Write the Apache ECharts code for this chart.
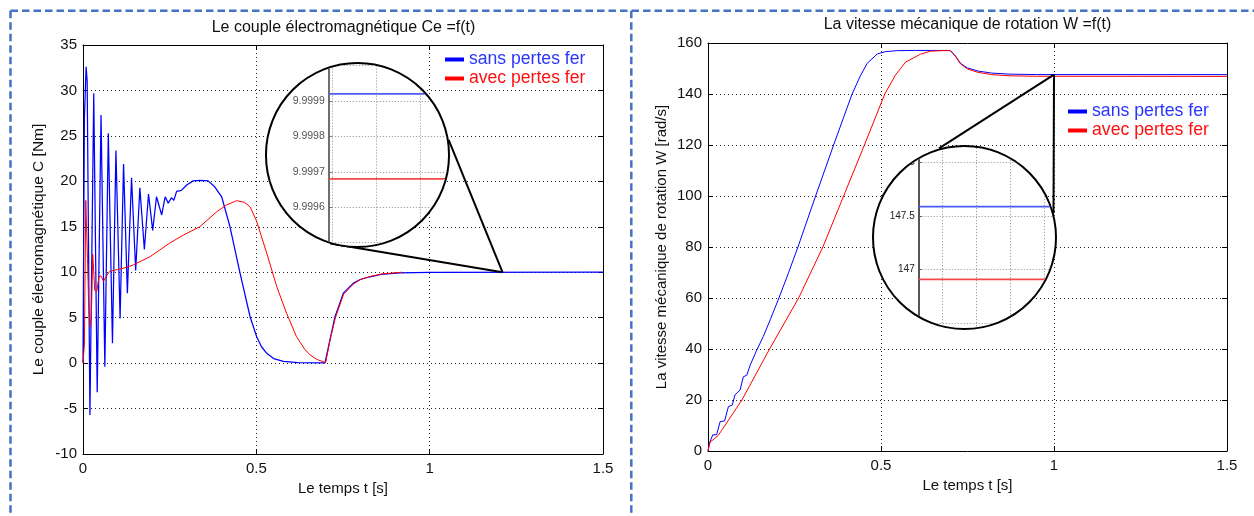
<!DOCTYPE html>
<html>
<head>
<meta charset="utf-8">
<script src="https://cdn.jsdelivr.net/npm/echarts@6/dist/echarts.min.js"></script>
<style>
  html, body { margin: 0; padding: 0; background: #fff; }
  #main { position: absolute; left: 0; top: 0; width: 1254px; height: 516px; }
  .lens { position: absolute; box-sizing: border-box; border: 2.5px solid #000; border-radius: 50%; overflow: hidden; background: #fff; }
  .lens > div { position: absolute; left: 0; top: 0; }
</style>
</head>
<body>
<div id="main"></div>
<div class="lens" id="lensC"><div id="zoomC"></div></div>
<div class="lens" id="lensW"><div id="zoomW"></div></div>
<script>
// ---- Couple électromagnétique Ce(t) [Nm] ----
const tCoupleSans = [0, 0.004, 0.009, 0.012, 0.020, 0.031, 0.041, 0.052, 0.063, 0.073, 0.085, 0.095, 0.107, 0.117, 0.128, 0.140, 0.152, 0.164, 0.177, 0.189, 0.201, 0.212, 0.227, 0.237, 0.246, 0.255, 0.262, 0.270, 0.284, 0.299, 0.318, 0.337, 0.361, 0.380, 0.400, 0.424, 0.453, 0.482, 0.501, 0.515, 0.530, 0.550, 0.578, 0.620, 0.698, 0.712, 0.727, 0.751, 0.780, 0.800, 0.828, 0.860, 0.914, 1.000, 1.500];
const coupleSans  = [0, 27.0, 32.6, 31.0, -5.7, 29.7, -3.2, 27.3, -0.4, 25.3, 2.2, 23.4, 4.9, 21.9, 7.7, 20.4, 10.2, 19.3, 12.5, 18.6, 14.6, 18.3, 16.3, 18.3, 17.6, 18.2, 17.9, 18.9, 19.0, 19.6, 20.05, 20.1, 20.05, 19.4, 18.3, 15.0, 9.9, 5.1, 2.9, 1.8, 1.08, 0.5, 0.2, 0.05, 0.03, 2.5, 5.1, 7.7, 8.8, 9.2, 9.5, 9.75, 9.92, 9.99, 9.99992];

const tCoupleAvec = [0, 0.004, 0.008, 0.011, 0.013, 0.016, 0.020, 0.024, 0.028, 0.031, 0.034, 0.040, 0.046, 0.052, 0.059, 0.068, 0.077, 0.100, 0.113, 0.145, 0.193, 0.250, 0.290, 0.337, 0.386, 0.414, 0.443, 0.465, 0.482, 0.500, 0.530, 0.559, 0.587, 0.616, 0.640, 0.655, 0.675, 0.693, 0.700, 0.713, 0.728, 0.752, 0.780, 0.800, 0.830, 0.860, 0.920];
const coupleAvec  = [0, 2.0, 17.9, 18.0, 11.5, 7.0, 4.0, 5.0, 12.0, 11.8, 8.0, 7.9, 9.5, 9.6, 9.0, 9.6, 10.1, 10.3, 10.4, 10.8, 11.7, 13.2, 14.1, 15.0, 16.66, 17.4, 17.87, 17.7, 17.2, 15.7, 12.1, 8.4, 5.5, 2.9, 1.5, 0.9, 0.4, 0.15, 0.05, 2.6, 5.0, 7.6, 8.7, 9.2, 9.55, 9.8, 9.99968];

// ---- Vitesse mécanique W(t) [rad/s] ----
const tVitesseSans = [0, 0.004, 0.0136, 0.025, 0.035, 0.048, 0.059, 0.070, 0.078, 0.093, 0.102, 0.112, 0.122, 0.141, 0.160, 0.180, 0.205, 0.233, 0.260, 0.311, 0.363, 0.4165, 0.440, 0.460, 0.489, 0.513, 0.547, 0.600, 0.700, 0.715, 0.730, 0.750, 0.780, 0.820, 0.870, 0.950, 1.500];
const vitesseSans  = [0, 3.0, 6.3, 6.4, 11.5, 11.8, 17.4, 18.0, 22.0, 24.0, 29.1, 29.7, 33.7, 39.6, 45.0, 51.5, 60.0, 70.0, 80.0, 100.0, 120.0, 140.0, 147.0, 152.0, 155.7, 156.6, 157.0, 157.08, 157.08, 155.0, 152.0, 150.2, 149.0, 148.2, 147.8, 147.62, 147.59];

const tVitesseAvec = [0, 0.006, 0.014, 0.030, 0.039, 0.098, 0.178, 0.262, 0.332, 0.392, 0.452, 0.511, 0.542, 0.571, 0.614, 0.643, 0.680, 0.700, 0.715, 0.730, 0.750, 0.780, 0.820, 0.870, 0.950, 1.500];
const vitesseAvec  = [0, 3.5, 4.3, 6.2, 8.0, 20.0, 40.0, 60.0, 80.0, 100.0, 120.0, 140.0, 147.5, 152.5, 155.6, 156.8, 157.0, 157.0, 154.8, 151.8, 149.8, 148.5, 147.6, 147.15, 146.95, 146.91];

// ---- Loupes (régime permanent) ----
const zoomWindowC = [1.20, 1.24];
const zoomLevelsC = [9.99992, 9.99968];   // sans / avec pertes fer
const zoomAnchorC = [1.21, 10];
const zoomWindowW = [1.00, 1.04];
const zoomLevelsW = [147.59, 146.91];
const zoomAnchorW = [1.0, 147.59];

const seriesNames = ['sans pertes fer', 'avec pertes fer'];
const seriesColors = ['#0000ff', '#ff0000'];
const legendTextColors = ['#2a36ff', '#ff1010'];

const FONT = '"Liberation Sans", Arial, Helvetica, sans-serif';

function pairs(ts, vs) { return ts.map((t, i) => [t, vs[i]]); }

function xAxesFor(gi) {
  const common = { gridIndex: gi, type: 'value', min: 0, max: 1.5, interval: 0.5 };
  return [
    Object.assign({}, common, {
      position: 'bottom',
      name: 'Le temps t [s]', nameLocation: 'middle', nameGap: 27,
      nameTextStyle: { fontFamily: FONT, fontSize: 15, color: '#111' },
      axisLine: { onZero: false, lineStyle: { color: '#000', width: 1 } },
      axisTick: { inside: true, length: 5, lineStyle: { color: '#000' } },
      axisLabel: { margin: 7, fontFamily: FONT, fontSize: 15, color: '#111' },
      splitLine: { show: true, lineStyle: { color: '#222', width: 1, type: [1, 3] } }
    }),
    Object.assign({}, common, {
      position: 'top',
      axisLine: { onZero: false, lineStyle: { color: '#000', width: 1 } },
      axisTick: { inside: true, length: 5, lineStyle: { color: '#000' } },
      axisLabel: { show: false }, splitLine: { show: false }
    })
  ];
}

function yAxesFor(gi, min, max, interval, name, nameGap, nameSize) {
  const common = { gridIndex: gi, type: 'value', min: min, max: max, interval: interval };
  return [
    Object.assign({}, common, {
      position: 'left',
      name: name, nameLocation: 'middle', nameGap: nameGap,
      nameTextStyle: { fontFamily: FONT, fontSize: nameSize, color: '#111' },
      axisLine: { onZero: false, lineStyle: { color: '#000', width: 1 } },
      axisTick: { inside: true, length: 5, lineStyle: { color: '#000' } },
      axisLabel: { margin: 6, fontFamily: FONT, fontSize: 15, color: '#111' },
      splitLine: { show: true, lineStyle: { color: '#222', width: 1, type: [1, 3] } }
    }),
    Object.assign({}, common, {
      position: 'right',
      axisLine: { onZero: false, lineStyle: { color: '#000', width: 1 } },
      axisTick: { inside: true, length: 5, lineStyle: { color: '#000' } },
      axisLabel: { show: false }, splitLine: { show: false }
    })
  ];
}

function legendAt(left, top, size) {
  return {
    left: left, top: top, orient: 'vertical', padding: 0,
    icon: 'rect', itemWidth: 19, itemHeight: 4, itemGap: 1,
    selectedMode: false,
    textStyle: { fontFamily: FONT, fontSize: size },
    data: seriesNames.map((n, i) => ({ name: n, textStyle: { color: legendTextColors[i] } }))
  };
}

function lineSeries(name, color, xi, yi, data, width) {
  return {
    type: 'line', name: name, xAxisIndex: xi, yAxisIndex: yi,
    data: data, showSymbol: false, symbol: 'none',
    lineStyle: { color: color, width: width }, itemStyle: { color: color },
    animation: false
  };
}

const main = echarts.init(document.getElementById('main'), null, { renderer: 'canvas' });
main.setOption({
  backgroundColor: '#fff',
  animation: false,
  textStyle: { fontFamily: FONT },
  title: [
    { text: 'Le couple électromagnétique Ce =f(t)', left: 343.5, top: 20, textAlign: 'center', padding: 0,
      textStyle: { fontFamily: FONT, fontSize: 16, fontWeight: 'normal', color: '#111' } },
    { text: 'La vitesse mécanique de rotation W =f(t)', left: 967.5, top: 17, textAlign: 'center', padding: 0,
      textStyle: { fontFamily: FONT, fontSize: 16, fontWeight: 'normal', color: '#111' } }
  ],
  legend: [legendAt(445, 50.5, 17.6), legendAt(1068, 102.5, 17.7)],
  grid: [
    { left: 83, top: 45, width: 520, height: 409, outerBoundsMode: 'none' },
    { left: 708, top: 43, width: 519, height: 408, outerBoundsMode: 'none' }
  ],
  xAxis: xAxesFor(0).concat(xAxesFor(1)),
  yAxis: yAxesFor(0, -10, 35, 5, 'Le couple électromagnétique C [Nm]', 36, 15.5)
    .concat(yAxesFor(1, 0, 160, 20, 'La vitesse mécanique de rotation W [rad/s]', 39, 15)),
  series: [
    lineSeries(seriesNames[0], seriesColors[0], 0, 0, pairs(tCoupleSans, coupleSans), 1.25),
    lineSeries(seriesNames[1], seriesColors[1], 0, 0, pairs(tCoupleAvec, coupleAvec), 1),
    lineSeries(seriesNames[0], seriesColors[0], 2, 2, pairs(tVitesseSans, vitesseSans), 1),
    lineSeries(seriesNames[1], seriesColors[1], 2, 2, pairs(tVitesseAvec, vitesseAvec), 1)
  ]
});

// Lens geometry (page pixels) and the two connector angles on each rim
const LENS_C = { cx: 357.3, cy: 155.0, r: 92.6, angles: [-9.4, 106.9] };
const LENS_W = { cx: 964.2, cy: 237.2, r: 92.4, angles: [-105.8, -14.9] };
const BORDER = 2.5;

function rimPoint(L, deg) {
  const a = deg * Math.PI / 180;
  return [L.cx + L.r * Math.cos(a), L.cy + L.r * Math.sin(a)];
}

const anchorC = main.convertToPixel({ gridIndex: 0 }, zoomAnchorC);
const anchorW = main.convertToPixel({ gridIndex: 1 }, zoomAnchorW);

function connector(L, anchor) {
  return L.angles.map(deg => {
    const p = rimPoint(L, deg);
    return { type: 'line', z: 50, shape: { x1: anchor[0], y1: anchor[1], x2: p[0], y2: p[1] },
             style: { stroke: '#000', lineWidth: 2 } };
  });
}

const dash = { stroke: '#4472c4', lineWidth: 2.5, lineDash: [7.5, 4] };
main.setOption({
  graphic: { elements: [
    { type: 'line', z: 60, shape: { x1: 10.5, y1: 10.7, x2: 1254, y2: 10.7 }, style: dash },
    { type: 'line', z: 60, shape: { x1: 10.5, y1: 10.7, x2: 10.5, y2: 516 }, style: dash },
    { type: 'line', z: 60, shape: { x1: 631.3, y1: 10.7, x2: 631.3, y2: 516 }, style: dash }
  ].concat(connector(LENS_C, anchorC), connector(LENS_W, anchorW)) }
});

// ---- Lens charts ----
function placeLens(id, innerId, L) {
  const el = document.getElementById(id);
  const d = 2 * L.r;
  el.style.left = (L.cx - L.r) + 'px';
  el.style.top = (L.cy - L.r) + 'px';
  el.style.width = d + 'px';
  el.style.height = d + 'px';
  const inner = document.getElementById(innerId);
  inner.style.width = (d - 2 * BORDER) + 'px';
  inner.style.height = (d - 2 * BORDER) + 'px';
  return [L.cx - L.r + BORDER, L.cy - L.r + BORDER];
}

function lensOption(origin, g, levels, win, labelStyle) {
  const ox = origin[0], oy = origin[1];
  const top = g.yTop - oy, height = g.yBottom - g.yTop;
  return {
    animation: false,
    grid: [
      { left: g.axisX - ox, top: top, width: 220, height: height, outerBoundsMode: 'none' },
      { left: g.gridX - ox, top: top, width: g.step * g.nx, height: height, outerBoundsMode: 'none' }
    ],
    xAxis: [
      { gridIndex: 0, type: 'value', min: win[0], max: win[1], show: false },
      { gridIndex: 1, type: 'value', min: 0, max: g.nx, interval: 1,
        axisLine: { show: false }, axisTick: { show: false }, axisLabel: { show: false },
        splitLine: { show: true, lineStyle: { color: '#8c8c8c', width: 1, type: [1, 2] } } }
    ],
    yAxis: [
      { gridIndex: 0, type: 'value', min: g.yMin, max: g.yMax, interval: g.yStep,
        axisLine: { show: true, onZero: false, lineStyle: { color: g.axisColor, width: 2 } },
        axisTick: { show: true, inside: true, length: 3, lineStyle: { color: g.axisColor, width: 1 } },
        axisLabel: Object.assign({ showMinLabel: false, showMaxLabel: false, formatter: g.fmt }, labelStyle),
        splitLine: { show: true, lineStyle: { color: '#8c8c8c', width: 1, type: [1, 2] } } },
      { gridIndex: 1, type: 'value', min: g.yMin, max: g.yMax, show: false }
    ],
    series: levels.map((v, i) => ({
      type: 'line', xAxisIndex: 0, yAxisIndex: 0, showSymbol: false, symbol: 'none',
      data: [[win[0], v], [win[1], v]],
      lineStyle: { color: i === 0 ? '#4c5cf5' : '#f24848', width: 1.8 }, animation: false
    }))
  };
}

const originC = placeLens('lensC', 'zoomC', LENS_C);
const zoomC = echarts.init(document.getElementById('zoomC'));
zoomC.setOption(lensOption(originC,
  { axisX: 329, gridX: 332, step: 44, nx: 4, yTop: 66.5, yBottom: 243.5,
    yMin: 9.9995, yMax: 10.0, yStep: 0.0001, axisColor: '#6e6e6e', fmt: v => v.toFixed(4) },
  zoomLevelsC, zoomWindowC,
  { fontFamily: FONT, fontSize: 10.5, color: '#555', margin: 4 }));

const originW = placeLens('lensW', 'zoomW', LENS_W);
const zoomW = echarts.init(document.getElementById('zoomW'));
zoomW.setOption(lensOption(originW,
  { axisX: 919, gridX: 943, step: 34, nx: 4, yTop: 109.5, yBottom: 377,
    yMin: 146, yMax: 148.5, yStep: 0.5, axisColor: '#555', fmt: v => String(v) },
  zoomLevelsW, zoomWindowW,
  { fontFamily: FONT, fontSize: 10, color: '#222', margin: 4 }));
</script>
</body>
</html>
